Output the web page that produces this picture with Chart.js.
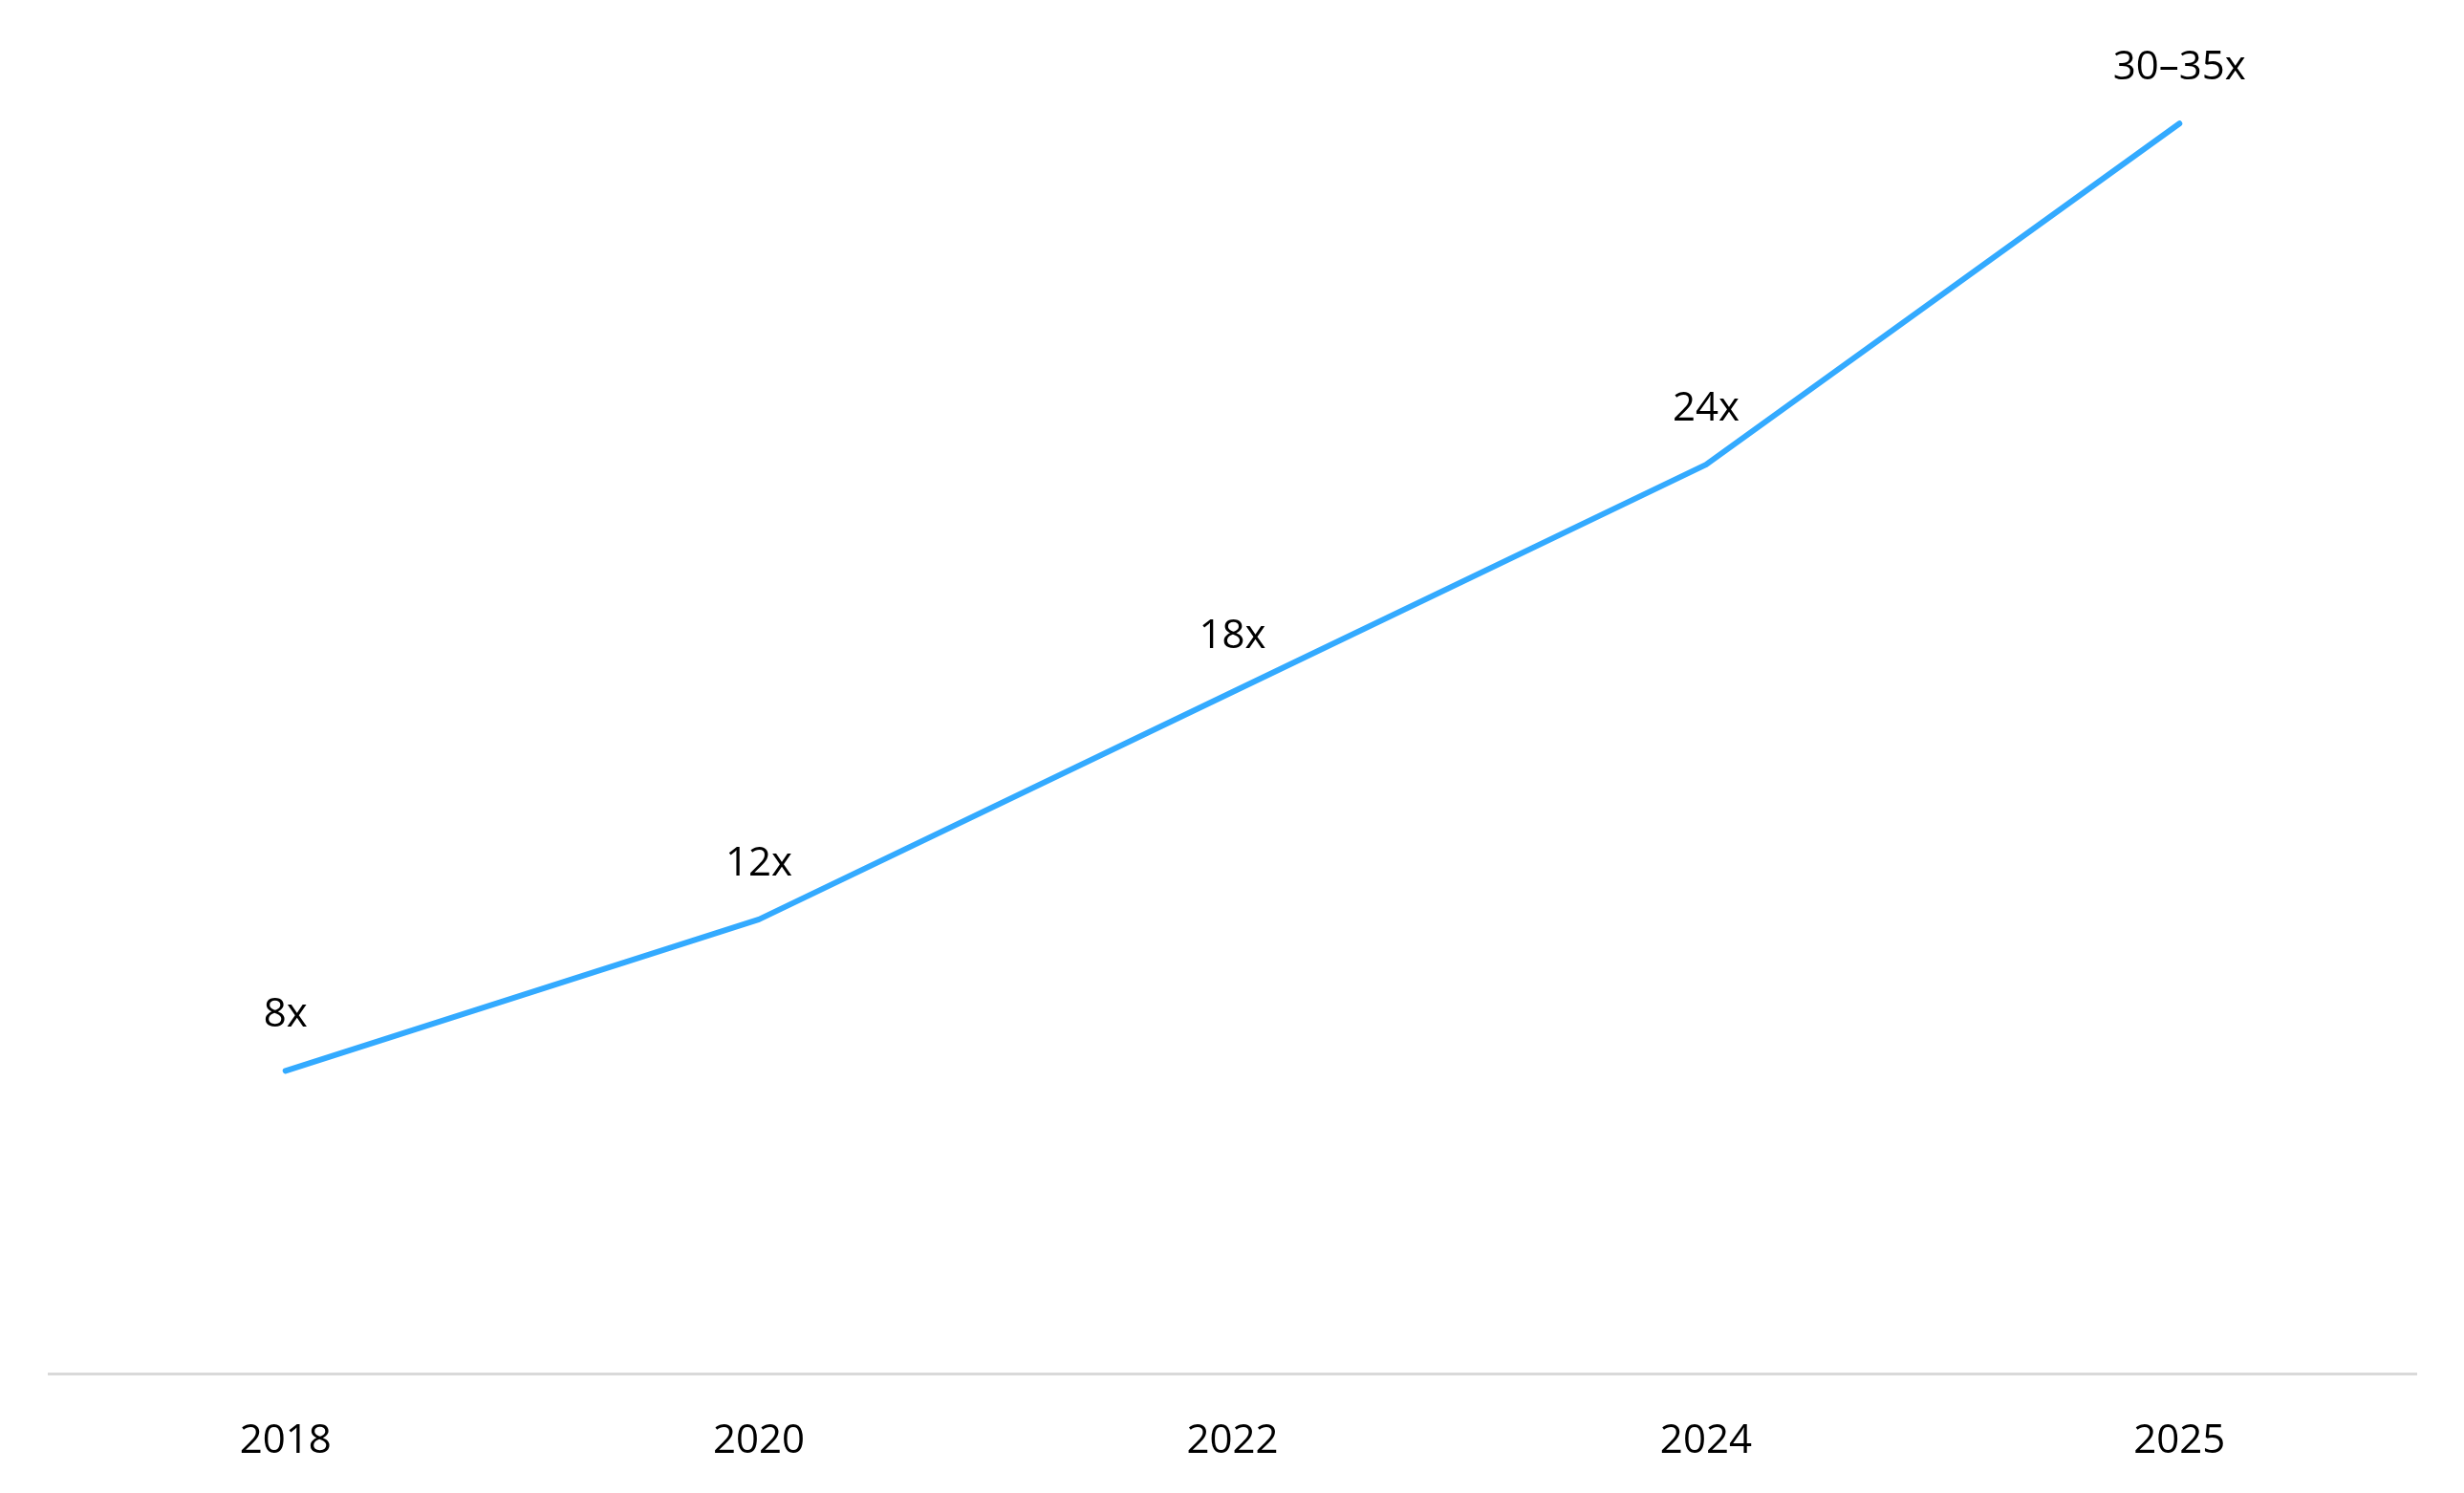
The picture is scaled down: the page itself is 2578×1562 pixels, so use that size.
<!DOCTYPE html>
<html>
<head>
<meta charset="utf-8">
<script src="https://cdn.jsdelivr.net/npm/chart.js@4.4.1/dist/chart.umd.min.js"></script>
<style>
  html, body { margin: 0; padding: 0; background: #fff; }
  #caja { width: 100vw; height: 100vh; position: relative; }
</style>
</head>
<body>
<div id="caja"><canvas id="graficoLinea"></canvas></div>
<script>
// Datos
const anios = ['2018', '2020', '2022', '2024', '2025'];
const multiplo = [8, 12, 18, 24, 33];
const etiquetas = ['8x', '12x', '18x', '24x', '30–35x'];

const fuente = "'Open Sans', 'Noto Sans', sans-serif";

// Plugin para escribir las etiquetas encima de cada punto
const etiquetasPuntos = {
    id: 'etiquetasPuntos',
    afterDatasetsDraw(chart) {
        const ctx = chart.ctx;
        const meta = chart.getDatasetMeta(0);
        ctx.save();
        ctx.font = '42px ' + fuente;
        ctx.fillStyle = '#000';
        ctx.textAlign = 'center';
        ctx.textBaseline = 'middle';
        meta.data.forEach((p, i) => {
            ctx.fillText(etiquetas[i], p.x, p.y - 58);
        });
        ctx.restore();
    }
};

const ctx = document.getElementById('graficoLinea').getContext('2d');
new Chart(ctx, {
    type: 'line',
    data: {
        labels: anios,
        datasets: [{
            data: multiplo,
            borderColor: '#33aaff',
            borderWidth: 6,
            borderCapStyle: 'round',
            borderJoinStyle: 'round',
            pointRadius: 0,
            tension: 0,
            fill: false
        }]
    },
    options: {
        responsive: true,
        maintainAspectRatio: false,
        animation: false,
        layout: { padding: { top: 50, left: 51, right: 50, bottom: -16 } },
        plugins: {
            legend: { display: false },
            tooltip: { enabled: false }
        },
        scales: {
            x: {
                offset: true,
                grid: { display: false, drawTicks: false },
                border: { display: true, color: '#d9d9d9', width: 3 },
                ticks: {
                    color: '#000',
                    padding: 45,
                    font: { family: fuente, size: 42 }
                }
            },
            y: {
                display: false,
                min: 0,
                max: 35
            }
        }
    },
    plugins: [etiquetasPuntos]
});
</script>
</body>
</html>
